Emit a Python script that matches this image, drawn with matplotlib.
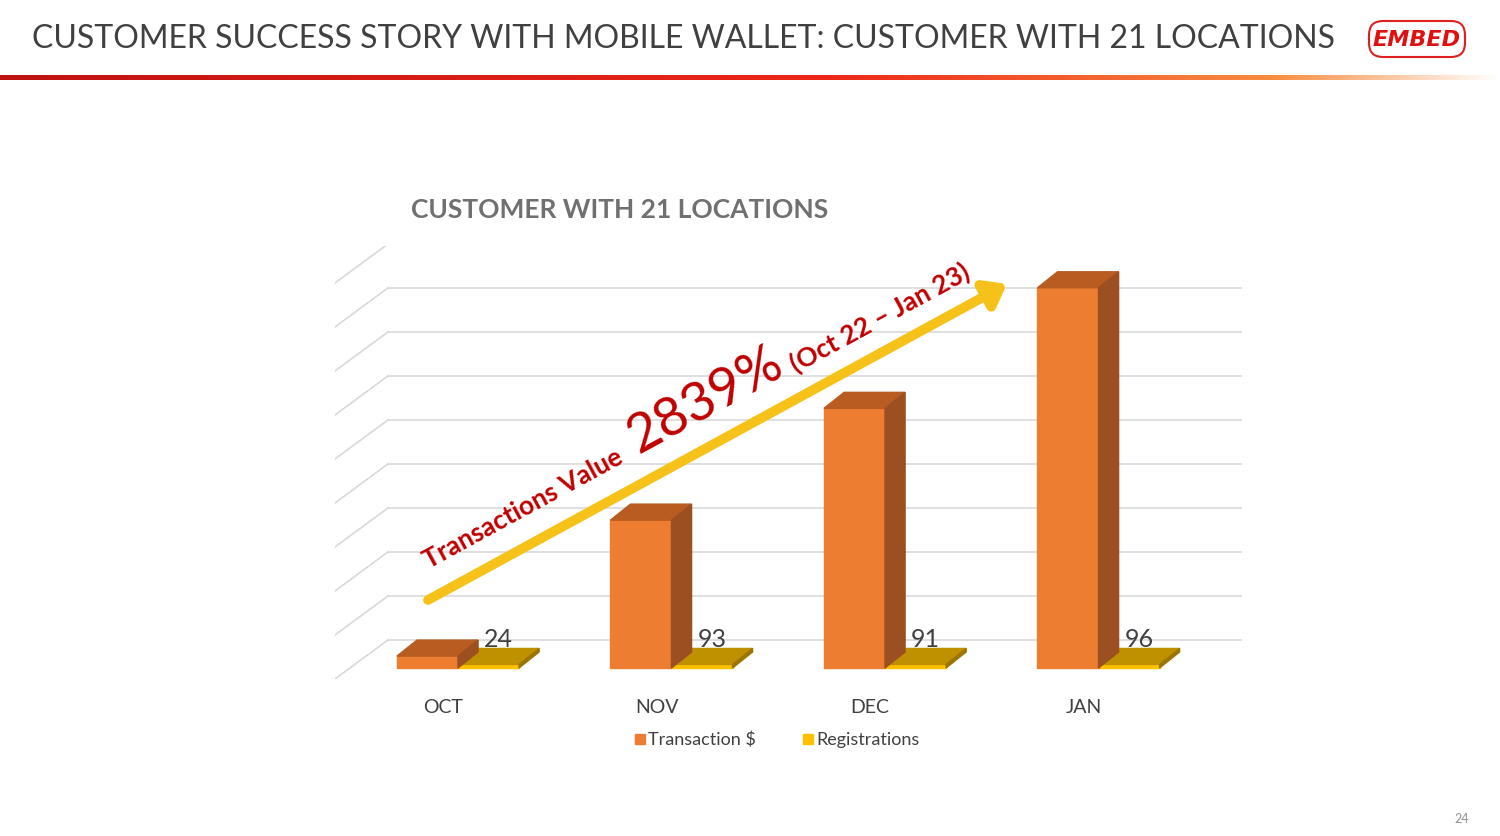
import matplotlib

matplotlib.use("Agg")
import matplotlib.pyplot as plt
import numpy as np
from matplotlib.patches import Polygon, FancyBboxPatch

months = ["OCT", "NOV", "DEC", "JAN"]
transactions = [270, 3360, 5900, 8640]
registrations = [24, 93, 91, 96]
title = "CUSTOMER SUCCESS STORY WITH MOBILE WALLET: CUSTOMER WITH 21 LOCATIONS"
chart_title = "CUSTOMER WITH 21 LOCATIONS"

W, H = 1500, 837
fig = plt.figure(figsize=(15, 8.37), dpi=100)
FONT = "Lato"

# chart axes in data units
px = lambda x0, y0, x1, y1: [x0 / W, 1 - y1 / H, (x1 - x0) / W, (y1 - y0) / H]
ax = fig.add_axes(px(335, 247, 1242, 680))
ax.set_xlim(-0.576, 3.672)
ax.set_ylim(-250, 9590)
ax.axis("off")

bw, dx, dy = 0.286, 0.094, 364
grid_dx, grid_dy = 0.248, 886
for k in range(10):
    b = 636 + 1000 * k
    ax.plot([-0.576 + grid_dx, 3.672], [b, b], color="#d9d9d9", lw=1.2, zorder=0)
    ax.plot([-0.576, -0.576 + grid_dx], [b - grid_dy, b], color="#d9d9d9", lw=1.2, zorder=0)


def bar3d(x, h, front, top, side, z):
    ax.add_patch(Polygon([[x, 0], [x + bw, 0], [x + bw, h], [x, h]], color=front, zorder=z))
    ax.add_patch(Polygon([[x, h], [x + bw, h], [x + bw + dx, h + dy], [x + dx, h + dy]], color=top, zorder=z))
    ax.add_patch(Polygon([[x + bw, 0], [x + bw + dx, dy], [x + bw + dx, h + dy], [x + bw, h]], color=side, zorder=z))


for i, (t, r) in enumerate(zip(transactions, registrations)):
    bar3d(i - bw, t, "#ED7D31", "#B85C22", "#9C4F20", 3)
    bar3d(i, 80, "#FFC000", "#BF9000", "#9C7500", 2)
    ax.text(i + 0.19, 420, str(r), fontsize=18, color="#404040", family=FONT, ha="center", va="bottom", zorder=5)
    ax.text(i - 0.07, -680, months[i], fontsize=14, color="#404040", family=FONT, ha="center", va="top",
            clip_on=False)

# overlay in pixel coordinates
ov = fig.add_axes([0, 0, 1, 1], zorder=10)
ov.set_xlim(0, W)
ov.set_ylim(H, 0)
ov.axis("off")
ov.patch.set_alpha(0)

ov.text(32, 39, title, fontsize=23, color="#404040", family=FONT, va="center")
grad = np.linspace(0, 1, 400)
cols = np.array([[0.75, 0.07, 0.07], [0.93, 0.15, 0.1], [0.97, 0.55, 0.25], [1, 1, 1]])
pos = [0, 0.55, 0.85, 1]
img = np.stack([np.interp(grad, pos, cols[:, c]) for c in range(3)], axis=-1)[None, :, :]
ov.imshow(img, extent=(0, W, 81, 76), aspect="auto")
ov.add_patch(FancyBboxPatch((1369, 22), 96, 36, boxstyle="round,pad=0,rounding_size=14",
                            fc="white", ec="#E02020", lw=1.5))
ov.text(1417, 40, "EMBED", fontsize=16, color="#E01010", weight="heavy", style="italic",
        ha="center", va="center", family="DejaVu Sans")

ov.text(411, 210, chart_title, fontsize=19, color="#707070", weight="bold", family=FONT, va="center")

ov.annotate("", xy=(1007, 285), xytext=(428, 601),
            arrowprops=dict(arrowstyle="-|>,head_length=1.2,head_width=0.9", color="#F6C21A", lw=7,
                            shrinkA=0, shrinkB=0))
ang = 28.6
red = "#C00000"
ov.text(523, 509, "Transactions Value", fontsize=19, color=red, rotation=ang, family=FONT,
        weight="bold", ha="center", va="center", rotation_mode="anchor")
ov.text(705, 400, "2839%", fontsize=39, color=red, rotation=ang, family=FONT,
        ha="center", va="center", rotation_mode="anchor")
ov.text(880, 318, "(Oct 22 – Jan 23)", fontsize=19, color=red, rotation=ang, family=FONT,
        weight="bold", ha="center", va="center", rotation_mode="anchor")

ov.add_patch(Polygon([[635, 735], [645, 735], [645, 745], [635, 745]], color="#ED7D31"))
ov.text(648, 740, "Transaction $", fontsize=13, color="#404040", family=FONT, va="center")
ov.add_patch(Polygon([[803, 735], [813, 735], [813, 745], [803, 745]], color="#FFC000"))
ov.text(816, 740, "Registrations", fontsize=13, color="#404040", family=FONT, va="center")
ov.text(1462, 819, "24", fontsize=9, color="#909090", family=FONT, ha="center", va="center")

fig.savefig("out.png", dpi=100, facecolor="white")
